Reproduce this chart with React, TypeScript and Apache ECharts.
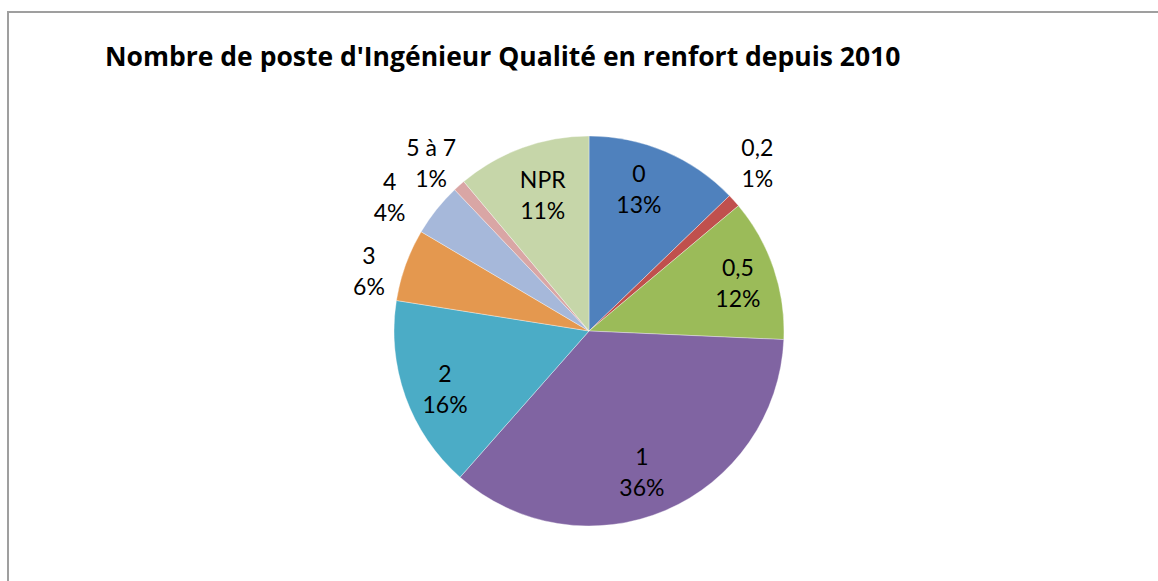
import React, { useEffect, useRef } from "react";
import * as echarts from "echarts";

const titleText = "Nombre de poste d'Ingénieur Qualité en renfort depuis 2010";
const categories = ["0", "0,2", "0,5", "1", "2", "3", "4", "5 à 7", "NPR"];
const values = [12.8, 1.1, 11.8, 35.8, 16.0, 6.0, 4.4, 1.0, 11.1];
const colors = [
  "#4F81BD",
  "#C0504D",
  "#9BBB59",
  "#8064A2",
  "#4BACC6",
  "#E4984F",
  "#A6B8DA",
  "#D9A6A5",
  "#C6D6A9",
];

const FONT = "Lato, 'Open Sans', sans-serif";
const TITLE_FONT = "'Open Sans', Lato, sans-serif";

// Excel "best fit" label nudges (pixels), keyed by category
const labelNudge: Record<string, [number, number]> = {
  "0": [-10, -2],
  NPR: [6, 7],
  "1": [-7, 0],
  "2": [0, 6],
  "0,5": [4, 1],
  "0,2": [-8, -10],
  "3": [3, 20],
  "4": [-14, 13],
  "5 à 7": [0, 8],
};

export default function App() {
  const ref = useRef<HTMLDivElement>(null);
  useEffect(() => {
    if (!ref.current) return;
    const chart = echarts.init(ref.current, undefined, { renderer: "svg" });
    const total = values.reduce((a, b) => a + b, 0);
    const isBig = values.map((v) => v / total > 0.08);
    const center = [589, 331];
    const labelStyle = {
      position: "inside",
      formatter: "{b}\n{d}%",
      color: "#000",
      fontFamily: FONT,
      fontSize: 23,
      lineHeight: 31,
    };
    const makeLabelSeries = (radius: number[], pick: (i: number) => boolean) => ({
      type: "pie",
      radius,
      center,
      startAngle: 90,
      clockwise: true,
      silent: true,
      percentPrecision: 0,
      avoidLabelOverlap: false,
      labelLayout: (p: any) => {
        const n = labelNudge[categories[p.dataIndex]];
        return n ? { dx: n[0], dy: n[1], hideOverlap: false, moveOverlap: false } : {};
      },
      itemStyle: { color: "rgba(0,0,0,0)", borderWidth: 0 },
      emphasis: { disabled: true },
      labelLine: { show: false },
      label: labelStyle,
      data: categories.map((c, i) => ({
        name: c,
        value: values[i],
        label: { show: pick(i) },
      })),
      z: 5,
    });
    chart.setOption({
      animation: false,
      title: {
        text: titleText,
        left: 105,
        top: 42,
        padding: 0,
        textStyle: {
          fontFamily: TITLE_FONT,
          fontWeight: "bold",
          fontSize: 26.5,
          color: "#000",
        },
      },
      graphic: [
        {
          type: "rect",
          shape: { x: 8, y: 12, width: 2000, height: 2000 },
          style: { fill: "none", stroke: "#9f9f9f", lineWidth: 2 },
          silent: true,
        },
      ],
      series: [
        {
          type: "pie",
          radius: 195,
          center,
          startAngle: 90,
          clockwise: true,
          silent: true,
          percentPrecision: 0,
          label: { show: false },
          labelLine: { show: false },
          emphasis: { disabled: true },
          itemStyle: { borderColor: "rgba(255,255,255,0.6)", borderWidth: 0.6 },
          data: categories.map((c, i) => ({
            name: c,
            value: values[i],
            itemStyle: { color: colors[i] },
          })),
        },
        makeLabelSeries([105, 195], (i) => isBig[i]),
        makeLabelSeries([196, 272], (i) => !isBig[i]),
      ],
    });
    return () => chart.dispose();
  }, []);
  return (
    <div
      ref={ref}
      style={{ position: "fixed", left: 0, top: 0, width: 1158, height: 581, background: "#fff" }}
    />
  );
}
